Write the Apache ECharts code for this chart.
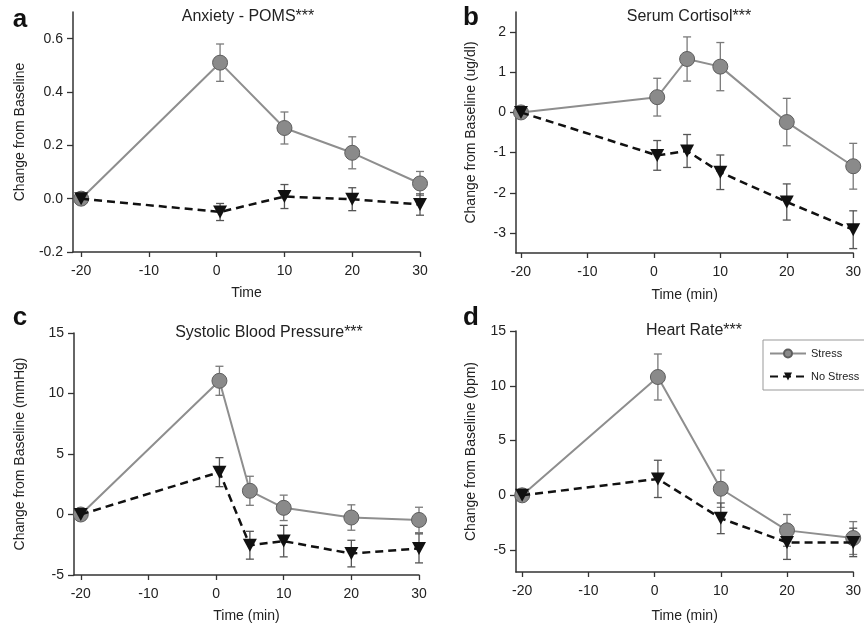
<!DOCTYPE html>
<html>
<head>
<meta charset="utf-8">
<script src="https://cdn.jsdelivr.net/npm/echarts@6/dist/echarts.min.js"></script>
<style>
  html, body { margin: 0; padding: 0; background: #fff; }
  #main { width: 864px; height: 627px; }
</style>
</head>
<body>
<div id="main"></div>
<script>
// data (change from baseline, mean and error)
var xTicks = [-20, -10, 0, 10, 20, 30];

// a - Anxiety POMS
var timesA = [-20, 0.5, 10, 20, 30];
var stressA = [0, 0.51, 0.265, 0.172, 0.057];
var stressErrA = [0, 0.07, 0.06, 0.06, 0.045];
var noStressA = [0, -0.05, 0.008, -0.002, -0.022];
var noStressErrA = [0, 0.032, 0.045, 0.043, 0.04];
var yTicksA = [-0.2, 0, 0.2, 0.4, 0.6];

// b - Serum Cortisol
var timesB = [-20, 0.5, 5, 10, 20, 30];
var stressB = [0, 0.38, 1.33, 1.14, -0.24, -1.34];
var stressErrB = [0, 0.47, 0.55, 0.6, 0.59, 0.57];
var noStressB = [0, -1.07, -0.96, -1.49, -2.23, -2.92];
var noStressErrB = [0, 0.37, 0.41, 0.43, 0.45, 0.47];
var yTicksB = [-3, -2, -1, 0, 1, 2];

// c - Systolic Blood Pressure
var timesC = [-20, 0.5, 5, 10, 20, 30];
var stressC = [0, 11.05, 1.96, 0.55, -0.25, -0.45];
var stressErrC = [0, 1.2, 1.2, 1.05, 1.05, 1.05];
var noStressC = [0, 3.5, -2.54, -2.2, -3.23, -2.8];
var noStressErrC = [0, 1.2, 1.15, 1.3, 1.1, 1.2];
var yTicksC = [-5, 0, 5, 10, 15];

// d - Heart Rate
var timesD = [-20, 0.5, 10, 20, 30];
var stressD = [0, 10.8, 0.6, -3.2, -3.9];
var stressErrD = [0, 2.1, 1.7, 1.45, 1.5];
var noStressD = [0, 1.5, -2.1, -4.3, -4.3];
var noStressErrD = [0, 1.7, 1.4, 1.55, 1.3];
var yTicksD = [-5, 0, 5, 10, 15];

var FONT = '"Liberation Sans", Arial, sans-serif';

var panels = [
  { letter: 'a', title: 'Anxiety - POMS***', yName: 'Change from Baseline', xName: 'Time',
    times: timesA, stress: stressA, stressErr: stressErrA, noStress: noStressA, noStressErr: noStressErrA,
    yTicks: yTicksA, digits: 1, xMin: -21.2, yMin: -0.2, yMax: 0.7,
    grid: { left: 73, top: 12, width: 347, height: 240 }, yGap: 46, xGap: 34,
    letterPos: [20, 20], titlePos: [248, 17] },
  { letter: 'b', title: 'Serum Cortisol***', yName: 'Change from Baseline (ug/dl)', xName: 'Time (min)',
    times: timesB, stress: stressB, stressErr: stressErrB, noStress: noStressB, noStressErr: noStressErrB,
    yTicks: yTicksB, digits: 0, xMin: -20.75, yMin: -3.5, yMax: 2.5,
    grid: { left: 516, top: 12, width: 345, height: 241 }, yGap: 38, xGap: 35,
    letterPos: [471, 18], titlePos: [689, 17] },
  { letter: 'c', title: 'Systolic Blood Pressure***', yName: 'Change from Baseline (mmHg)', xName: 'Time (min)',
    times: timesC, stress: stressC, stressErr: stressErrC, noStress: noStressC, noStressErr: noStressErrC,
    yTicks: yTicksC, digits: 0, xMin: -21.0, yMin: -5, yMax: 15,
    grid: { left: 74, top: 333, width: 345, height: 242 }, yGap: 47, xGap: 34,
    letterPos: [20, 318], titlePos: [269, 333] },
  { letter: 'd', title: 'Heart Rate***', yName: 'Change from Baseline (bpm)', xName: 'Time (min)',
    times: timesD, stress: stressD, stressErr: stressErrD, noStress: noStressD, noStressErr: noStressErrD,
    yTicks: yTicksD, digits: 0, xMin: -20.93, yMin: -7, yMax: 15,
    grid: { left: 516, top: 331, width: 345, height: 241 }, yGap: 38, xGap: 37,
    letterPos: [471, 318], titlePos: [694, 331] }
];

function pairs(xs, ys) {
  return xs.map(function (x, i) { return [x, ys[i]]; });
}
function errRows(xs, ys, es) {
  var out = [];
  xs.forEach(function (x, i) {
    if (es[i] > 0) out.push([x, ys[i] - es[i], ys[i] + es[i]]);
  });
  return out;
}
function errorBar(color) {
  return function (params, api) {
    var x = api.value(0);
    var lo = api.coord([x, api.value(1)]);
    var hi = api.coord([x, api.value(2)]);
    var w = 4;
    var st = { stroke: color, lineWidth: 1.3 };
    return {
      type: 'group',
      children: [
        { type: 'line', shape: { x1: hi[0], y1: hi[1], x2: lo[0], y2: lo[1] }, style: st },
        { type: 'line', shape: { x1: hi[0] - w, y1: hi[1], x2: hi[0] + w, y2: hi[1] }, style: st },
        { type: 'line', shape: { x1: lo[0] - w, y1: lo[1], x2: lo[0] + w, y2: lo[1] }, style: st }
      ]
    };
  };
}

var grids = [], xAxes = [], yAxes = [], series = [], graphics = [];
var axisLine = { onZero: false, lineStyle: { color: '#333', width: 1.5 } };
var tickStyle = { color: '#333', width: 1.3 };

panels.forEach(function (p, i) {
  grids.push(p.grid);
  xAxes.push({
    gridIndex: i, type: 'value', min: p.xMin, max: 30,
    name: p.xName, nameLocation: 'middle', nameGap: p.xGap,
    nameTextStyle: { fontFamily: FONT, fontSize: 14, color: '#222' },
    axisLine: axisLine, splitLine: { show: false },
    axisTick: { customValues: xTicks, length: 5, lineStyle: tickStyle },
    axisLabel: { customValues: xTicks, margin: 12, fontFamily: FONT, fontSize: 14, color: '#222' }
  });
  yAxes.push({
    gridIndex: i, type: 'value', min: p.yMin, max: p.yMax,
    name: p.yName, nameLocation: 'middle', nameGap: p.yGap,
    nameTextStyle: { fontFamily: FONT, fontSize: 14, color: '#222' },
    axisLine: axisLine, splitLine: { show: false },
    axisTick: { customValues: p.yTicks, length: 6, lineStyle: tickStyle },
    axisLabel: {
      customValues: p.yTicks, margin: 10, fontFamily: FONT, fontSize: 14, color: '#222',
      formatter: function (v) { return Number(v).toFixed(p.digits); }
    }
  });

  series.push({
    type: 'custom', xAxisIndex: i, yAxisIndex: i, z: 1, silent: true,
    renderItem: errorBar('#7a7a7a'), encode: { x: 0, y: [1, 2] },
    data: errRows(p.times, p.stress, p.stressErr)
  });
  series.push({
    type: 'custom', xAxisIndex: i, yAxisIndex: i, z: 1, silent: true,
    renderItem: errorBar('#555'), encode: { x: 0, y: [1, 2] },
    data: errRows(p.times, p.noStress, p.noStressErr)
  });
  series.push({
    name: 'Stress', type: 'line', xAxisIndex: i, yAxisIndex: i, z: 2,
    symbol: 'circle', symbolSize: 15, showAllSymbol: true,
    lineStyle: { color: '#8e8e8e', width: 2 },
    itemStyle: { color: '#8a8a8a', borderColor: '#5e5e5e', borderWidth: 1 },
    data: pairs(p.times, p.stress)
  });
  series.push({
    name: 'No Stress', type: 'line', xAxisIndex: i, yAxisIndex: i, z: 3,
    symbol: 'triangle', symbolRotate: 180, symbolSize: [14, 13], showAllSymbol: true,
    lineStyle: { color: '#111', width: 2.5, type: [8, 5] },
    itemStyle: { color: '#111' },
    data: pairs(p.times, p.noStress)
  });

  graphics.push({
    type: 'text', x: p.letterPos[0], y: p.letterPos[1],
    style: { text: p.letter, align: 'center', verticalAlign: 'middle',
      font: 'bold 26px ' + FONT, fill: '#111' }
  });
  graphics.push({
    type: 'text', x: p.titlePos[0], y: p.titlePos[1],
    style: { text: p.title, align: 'center', verticalAlign: 'middle',
      font: '16px ' + FONT, fill: '#222' }
  });
});

var chart = echarts.init(document.getElementById('main'), null, { renderer: 'canvas' });
chart.setOption({
  backgroundColor: '#fff',
  animation: false,
  grid: grids,
  xAxis: xAxes,
  yAxis: yAxes,
  legend: {
    data: ['Stress', 'No Stress'],
    orient: 'vertical', left: 763, top: 340,
    itemWidth: 36, itemHeight: 10, itemGap: 12,
    padding: [8, 10, 8, 6],
    borderColor: '#999', borderWidth: 1,
    textStyle: { fontFamily: FONT, fontSize: 11, color: '#222' }
  },
  graphic: graphics,
  series: series
});
</script>
</body>
</html>
